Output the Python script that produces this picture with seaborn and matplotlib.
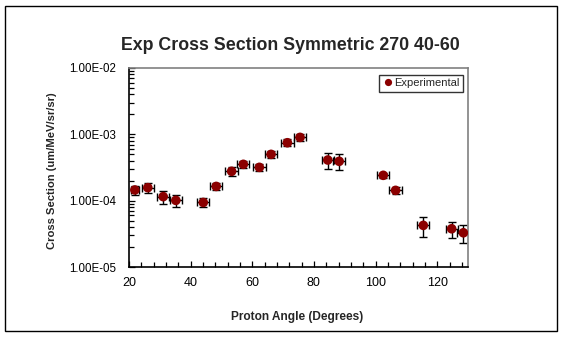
import matplotlib
matplotlib.use("Agg")
import matplotlib.pyplot as plt
import seaborn as sns
import pandas as pd
from matplotlib.patches import Rectangle
from matplotlib.ticker import FixedLocator, LogLocator, NullFormatter, FuncFormatter, MultipleLocator

# ---- data ----
angle = [21.9, 26.1, 31.1, 35.2, 44.1, 48.3, 53.3, 57.1, 62.3, 66.1,
         71.4, 75.5, 84.5, 88.2, 102.5, 106.5, 115.5, 124.7, 128.5]
cross_section = [1.45e-4, 1.57e-4, 1.15e-4, 1.01e-4, 9.4e-5, 1.64e-4, 2.77e-4, 3.53e-4, 3.18e-4, 4.99e-4,
                 7.47e-4, 9.0e-4, 4.1e-4, 3.92e-4, 2.41e-4, 1.43e-4, 4.24e-5, 3.77e-5, 3.28e-5]
angle_err = [1.2, 2, 2, 2, 2, 2, 2, 2, 2, 2,
             2, 2, 2, 2, 2, 2, 2, 2, 2]
cs_err = [2.2e-5, 2.7e-5, 2.6e-5, 2.0e-5, 1.4e-5, 2.0e-5, 4.1e-5, 4.6e-5, 3.8e-5, 6.0e-5,
          9.0e-5, 1.08e-4, 1.1e-4, 1.05e-4, 2.4e-5, 1.9e-5, 1.4e-5, 1.0e-5, 1.0e-5]
y_ticks = [1e-5, 1e-4, 1e-3, 1e-2]
x_ticks = [20, 40, 60, 80, 100, 120]

title = "Exp Cross Section Symmetric 270 40-60"
xlabel = "Proton Angle (Degrees)"
ylabel = "Cross Section (um/MeV/sr/sr)"
series_name = "Experimental"

df = pd.DataFrame({"angle": angle, "cs": cross_section, "series": series_name})

sns.set_theme(style="white")
plt.rcParams["font.family"] = ["Liberation Sans", "DejaVu Sans"]

W, H = 563, 338
fig = plt.figure(figsize=(W / 100, H / 100), dpi=100)
L, R, T, B = 129, 468, 68, 267
ax = fig.add_axes([L / W, 1 - B / H, (R - L) / W, (B - T) / H])

ax.errorbar(angle, cross_section, xerr=angle_err, yerr=cs_err, fmt="none",
            ecolor="black", elinewidth=1.0, capsize=3.0, capthick=1.0, zorder=2)
sns.scatterplot(data=df, x="angle", y="cs", hue="series", palette=["#8B0000"],
                marker="o", s=48, edgecolor="#8B0000", linewidth=0, ax=ax, zorder=3)

ax.set_yscale("log")
ax.set_xlim(20, 130)
ax.set_ylim(1e-5, 1e-2)

ax.xaxis.set_major_locator(FixedLocator(x_ticks))
ax.xaxis.set_minor_locator(MultipleLocator(4))
ax.yaxis.set_major_locator(FixedLocator(y_ticks))
ax.yaxis.set_minor_locator(LogLocator(base=10, subs=range(2, 10)))
ax.yaxis.set_minor_formatter(NullFormatter())

def fmt_e(v, pos):
    s = "%.2E" % v
    mant, exp = s.split("E")
    return "%sE%s%02d" % (mant, "-" if int(exp) < 0 else "+", abs(int(exp)))
ax.yaxis.set_major_formatter(FuncFormatter(fmt_e))

ax.tick_params(axis="both", which="both", direction="in", colors="black",
               width=0.9, pad=6)
ax.tick_params(axis="both", which="major", length=4)
ax.tick_params(axis="both", which="minor", length=3.5)
ax.tick_params(axis="x", which="both", bottom=True, top=False, pad=7, labelsize=9)
ax.tick_params(axis="y", which="both", left=True, right=False, pad=9, labelsize=8.3)

for side in ["left", "bottom"]:
    ax.spines[side].set_color("black")
    ax.spines[side].set_linewidth(1.2)
for side in ["top", "right"]:
    ax.spines[side].set_color("#808080")
    ax.spines[side].set_linewidth(1.2)
ax.grid(False)

ax.set_xlabel(xlabel, fontsize=8.6, fontweight="bold")
ax.set_ylabel(ylabel, fontsize=8.1, fontweight="bold")
ax.xaxis.set_label_coords((297 - L) / (R - L), (B - 311) / (B - T))
ax.yaxis.set_label_coords((57 - L) / (R - L), (B - 171) / (B - T))

handles, labels = ax.get_legend_handles_labels()
leg = ax.legend(handles, labels, loc="upper right",
                bbox_to_anchor=((463 - L) / (R - L), (B - 75) / (B - T)),
                fontsize=8, frameon=True, fancybox=False, edgecolor="black",
                borderpad=0.3, handletextpad=0.1, handlelength=1.0,
                borderaxespad=0, markerscale=0.75)
leg.get_frame().set_linewidth(1.0)

fig.text(290 / W, 1 - 45 / H, title, ha="center", va="center",
         fontsize=12.8, fontweight="bold")

fig.patches.append(Rectangle((5 / W, 1 - 331 / H), 552 / W, 325 / H,
                             transform=fig.transFigure, fill=False,
                             edgecolor="black", linewidth=1.0))

fig.savefig("out.png", dpi=100)
